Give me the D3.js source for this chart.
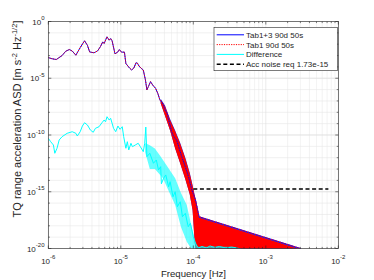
<!DOCTYPE html>
<html>
<head>
<meta charset="utf-8">
<script src="https://cdn.jsdelivr.net/npm/d3@7"></script>
<style>
  body { margin: 0; background: #fff; }
  text { font-family: "Liberation Sans", Arial, sans-serif; fill: #262626; }
</style>
</head>
<body>
<svg></svg>
<script>
const width = 374, height = 280;
const svg = d3.select("svg").attr("width", width).attr("height", height);

// values are log10 exponents (frequency in Hz, ASD in m s^-2 Hz^-1/2)
const tab13LogF = [-6.0, -5.95, -5.89, -5.81, -5.76, -5.71, -5.67, -5.62, -5.56, -5.50,
  -5.46, -5.43, -5.37, -5.32, -5.28, -5.25, -5.23, -5.19, -5.16, -5.14,
  -5.12, -5.08, -5.04, -5.02, -4.99, -4.95, -4.93, -4.88, -4.85, -4.82,
  -4.79, -4.77, -4.75, -4.72, -4.69, -4.66, -4.64, -4.62, -4.59, -4.56,
  -4.52, -4.49, -4.46, -4.43, -4.41, -4.39, -4.36, -4.34, -4.32, -4.30,
  -4.27, -4.23, -4.16, -4.11, -4.06, -4.02, -3.97, -3.94, -3.92, -2.52, -2.48];
const tab13LogA = [-3.18, -3.28, -3.35, -3.0, -2.62, -2.47, -2.6, -2.97, -2.3, -1.7,
  -2.1, -2.68, -2.76, -2.59, -2.2, -1.8, -1.94, -1.35, -1.65, -1.5,
  -1.7, -2.85, -2.68, -2.47, -2.7, -2.7, -3.7, -4.1, -4.27, -4.1,
  -3.63, -3.68, -3.92, -4.12, -4.27, -5.15, -6.03, -5.74, -5.3, -5.6,
  -5.89, -6.33, -6.92, -7.15, -7.36, -7.8, -8.09, -8.68, -9.12, -9.71,
  -10.15, -10.44, -11.9, -12.8, -13.8, -14.85, -15.7, -16.6, -17.2, -20.0, -20.3];

// spread of the noisy Tab1 spectrum above 4e-5 Hz
const bandLogF = [-4.45, -4.39, -4.32, -4.25, -4.18, -4.11, -4.05, -4.01, -3.98, -3.95, -3.92, -2.52];
const bandHi   = [-6.8, -7.4, -8.6, -9.6, -10.7, -12.0, -13.3, -14.4, -15.3, -16.2, -17.2, -20.0];
const bandLo   = [-7.2, -8.3, -9.6, -11.2, -12.5, -13.9, -15.2, -16.6, -19.5, -21.0, -21.0, -21.0];

const diffLogF = [-6.0, -5.967, -5.93, -5.91, -5.88, -5.85, -5.81, -5.74, -5.67, -5.62,
  -5.60, -5.56, -5.53, -5.50, -5.46, -5.42, -5.38, -5.35, -5.30, -5.26,
  -5.23, -5.21, -5.19, -5.16, -5.14, -5.10, -5.07, -5.04, -5.01, -4.98,
  -4.96, -4.93, -4.91, -4.89, -4.86, -4.84, -4.80, -4.76, -4.73, -4.69,
  -4.67, -4.655, -4.64, -4.60, -4.55, -4.51, -4.48, -4.45, -4.44, -4.41,
  -4.38, -4.34, -4.32, -4.28, -4.25, -4.22, -4.18, -4.15, -4.11, -4.07,
  -4.04, -4.0, -3.96, -3.93, -3.88, -3.82, -3.77, -3.70, -3.64, -3.55,
  -3.47, -3.38, -3.33];
const diffLogA = [-10.29, -10.59, -10.88, -11.61, -11.17, -10.44, -10.15, -9.85, -9.71, -9.85,
  -10.09, -9.71, -9.21, -8.92, -9.12, -9.56, -9.76, -9.41, -9.27, -8.92,
  -8.68, -8.83, -8.39, -8.68, -8.53, -9.41, -9.71, -9.21, -9.5, -9.27,
  -10.15, -11.17, -10.59, -11.32, -10.73, -11.03, -10.88, -10.73, -11.03, -11.47,
  -10.73, -9.3, -11.91, -11.61, -12.49, -12.2, -13.08, -12.79, -14.3, -13.81,
  -13.52, -14.56, -14.11, -15.44, -15.0, -16.32, -15.88, -17.2, -16.9, -18.08,
  -17.78, -18.96, -19.69, -19.96, -19.82, -19.96, -19.78, -19.91, -19.82, -19.96,
  -19.87, -19.98, -20.1];

// spread of the noisy Difference spectrum
const diffBandLogF = [-4.665, -4.6, -4.53, -4.46, -4.418, -4.335, -4.25, -4.17, -4.09, -4.02, -3.977, -3.935, -3.49, -3.354];
const diffBandHi   = [-10.7, -10.9, -11.2, -11.8, -12.2, -13.0, -13.81, -15.1, -16.17, -18.19, -19.4, -19.85, -19.85, -20.0];
const diffBandLo   = [-11.5, -13.0, -13.0, -13.5, -13.81, -15.0, -16.17, -18.1, -19.4, -20.1, -20.1, -20.1, -20.1, -20.1];

const reqLevel = 1.73e-15;
const reqFreq = [1e-4, 7.3e-3];

const xTickExp = [-6, -5, -4, -3, -2];
const yTickExp = [0, -5, -10, -15, -20];
const legendNames = ["Tab1+3 90d 50s", "Tab1 90d 50s", "Difference", "Acc noise req 1.73e-15"];

const p10 = v => Math.pow(10, v);
const axL = 48.3, axR = 338.3, axT = 21.5, axB = 248.5;
const x = d3.scaleLog().domain([1e-6, 1e-2]).range([axL, axR]);
const y = d3.scaleLog().domain([1e-20, 1]).range([axB, axT]);

// grid
const minorX = [];
for (let e = -6; e < -2; e++) for (let k = 2; k <= 9; k++) minorX.push(k * p10(e));
const g = svg.append("g");
g.selectAll(".gxm").data(minorX).enter().append("line")
  .attr("x1", d => x(d)).attr("x2", d => x(d)).attr("y1", axT).attr("y2", axB)
  .attr("stroke", "#ebebeb").attr("stroke-width", 0.6);
g.selectAll(".gy").data(d3.range(-19, 0)).enter().append("line")
  .attr("x1", axL).attr("x2", axR).attr("y1", d => y(p10(d))).attr("y2", d => y(p10(d)))
  .attr("stroke", "#e6e6e6").attr("stroke-width", 0.6);
g.selectAll(".gx").data(xTickExp).enter().append("line")
  .attr("x1", d => x(p10(d))).attr("x2", d => x(p10(d))).attr("y1", axT).attr("y2", axB)
  .attr("stroke", "#dedede").attr("stroke-width", 0.6);
g.selectAll(".gyM").data(yTickExp).enter().append("line")
  .attr("x1", axL).attr("x2", axR).attr("y1", d => y(p10(d))).attr("y2", d => y(p10(d)))
  .attr("stroke", "#dedede").attr("stroke-width", 0.6);

svg.append("clipPath").attr("id", "clip").append("rect")
  .attr("x", axL).attr("y", axT).attr("width", axR - axL).attr("height", axB - axT);
const plot = svg.append("g").attr("clip-path", "url(#clip)");

const line = d3.line().x(d => x(d[0])).y(d => y(d[1]));
const bandArea = (k) => d3.area().x(d => x(d.f)).y0(d => y(d.lo)).y1(d => y(d.hi * k));

// noisy spread of the two tabs
const band = bandLogF.map((f, i) => ({f: p10(f), hi: p10(bandHi[i]), lo: p10(bandLo[i])}));
plot.append("path").datum(band).attr("d", bandArea(1)).attr("fill", "#3b2bd9");
plot.append("path").datum(band).attr("d", bandArea(0.8)).attr("fill", "#ff0000");

// Tab1+3 and Tab1
const tab = tab13LogF.map((f, i) => [p10(f), p10(tab13LogA[i])]);
plot.append("path").datum(tab).attr("d", line)
  .attr("fill", "none").attr("stroke", "#0000ff").attr("stroke-width", 1);
plot.append("path").datum(tab).attr("d", line)
  .attr("fill", "none").attr("stroke", "#ff0000").attr("stroke-width", 1)
  .attr("stroke-dasharray", "1.2,1.2");

// Difference
const diffBand = diffBandLogF.map((f, i) => ({f: p10(f), hi: p10(diffBandHi[i]), lo: p10(diffBandLo[i])}));
plot.append("path").datum(diffBand).attr("d", bandArea(1))
  .attr("fill", "#00ffff").attr("fill-opacity", 0.6);
const diff = diffLogF.map((f, i) => [p10(f), p10(diffLogA[i])]);
plot.append("path").datum(diff).attr("d", line)
  .attr("fill", "none").attr("stroke", "#00ffff").attr("stroke-width", 1);

// requirement
plot.append("path").datum(reqFreq.map(f => [f, reqLevel])).attr("d", line)
  .attr("fill", "none").attr("stroke", "#000").attr("stroke-width", 1.5)
  .attr("stroke-dasharray", "4,2.6");

// box and ticks
svg.append("rect").attr("x", axL).attr("y", axT).attr("width", axR - axL).attr("height", axB - axT)
  .attr("fill", "none").attr("stroke", "#262626").attr("stroke-width", 0.6);
const ticks = svg.append("g").attr("stroke", "#262626").attr("stroke-width", 0.6);
xTickExp.forEach(e => {
  const xv = x(p10(e));
  ticks.append("line").attr("x1", xv).attr("x2", xv).attr("y1", axB).attr("y2", axB - 3);
  ticks.append("line").attr("x1", xv).attr("x2", xv).attr("y1", axT).attr("y2", axT + 3);
});
minorX.forEach(d => {
  const xv = x(d);
  ticks.append("line").attr("x1", xv).attr("x2", xv).attr("y1", axB).attr("y2", axB - 1.6);
  ticks.append("line").attr("x1", xv).attr("x2", xv).attr("y1", axT).attr("y2", axT + 1.6);
});
d3.range(-20, 1).forEach(e => {
  const yv = y(p10(e)), len = yTickExp.includes(e) ? 3 : 1.6;
  ticks.append("line").attr("x1", axL).attr("x2", axL + len).attr("y1", yv).attr("y2", yv);
  ticks.append("line").attr("x1", axR).attr("x2", axR - len).attr("y1", yv).attr("y2", yv);
});

// tick labels
xTickExp.forEach(e => {
  const t = svg.append("text").attr("x", x(p10(e))).attr("y", 263.5)
    .attr("text-anchor", "middle").style("font-size", "8px");
  t.append("tspan").text("10");
  t.append("tspan").attr("dy", -4.5).style("font-size", "6px").text(e);
});
yTickExp.forEach(e => {
  const t = svg.append("text").attr("x", 44.5).attr("y", y(p10(e)) + 3)
    .attr("text-anchor", "end").style("font-size", "8px");
  t.append("tspan").text("10");
  t.append("tspan").attr("dy", -4.5).style("font-size", "6px").text(e);
});

// axis labels
svg.append("text").attr("x", 193.5).attr("y", 276.5).attr("text-anchor", "middle")
  .style("font-size", "9.6px").text("Frequency [Hz]");
const yl = svg.append("text").attr("transform", "translate(21,119) rotate(-90)")
  .attr("text-anchor", "middle").style("font-size", "11px");
yl.append("tspan").text("TQ range acceleration ASD [m s");
yl.append("tspan").attr("dy", -4).style("font-size", "7.5px").text("-2");
yl.append("tspan").attr("dy", 4).text(" Hz");
yl.append("tspan").attr("dy", -4).style("font-size", "7.5px").text("-1/2");
yl.append("tspan").attr("dy", 4).text("]");

// legend
const lg = svg.append("g");
lg.append("rect").attr("x", 214).attr("y", 27.3).attr("width", 123.3).attr("height", 43.4)
  .attr("fill", "#fff").attr("stroke", "#262626").attr("stroke-width", 0.6);
const styles = [
  {c: "#0000ff", w: 1, d: null},
  {c: "#ff0000", w: 1, d: "1.2,1.2"},
  {c: "#00ffff", w: 1, d: null},
  {c: "#000", w: 1.5, d: "4,2.6"}
];
legendNames.forEach((name, i) => {
  const yy = 34.8 + i * 9.8;
  lg.append("line").attr("x1", 216.7).attr("x2", 244).attr("y1", yy).attr("y2", yy)
    .attr("stroke", styles[i].c).attr("stroke-width", styles[i].w)
    .attr("stroke-dasharray", styles[i].d);
  lg.append("text").attr("x", 246).attr("y", yy + 2.9).style("font-size", "8px").text(name);
});
</script>
</body>
</html>
